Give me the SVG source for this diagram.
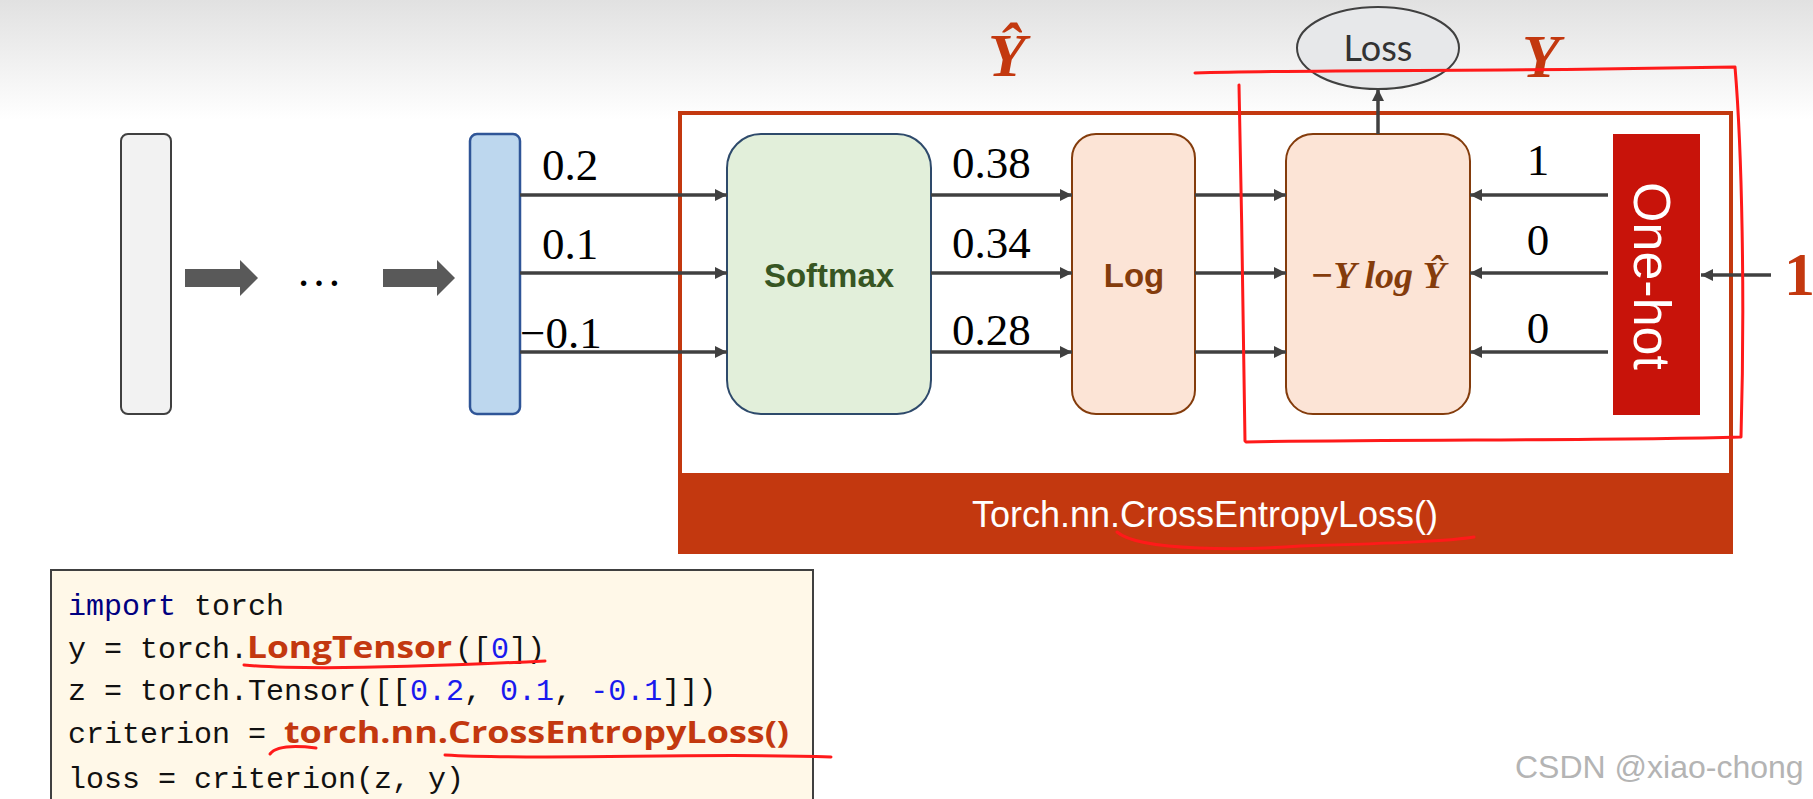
<svg xmlns="http://www.w3.org/2000/svg" width="1813" height="799" viewBox="0 0 1813 799">
<defs>
<linearGradient id="bg" x1="0" y1="0" x2="0" y2="1">
<stop offset="0" stop-color="#e1e1e1"/>
<stop offset="1" stop-color="#ffffff"/>
</linearGradient>
<marker id="ah" markerUnits="userSpaceOnUse" markerWidth="12" markerHeight="12" refX="12" refY="6" orient="auto">
<path d="M0,0 L12,6 L0,12 z" fill="#404040"/>
</marker>
<style>
.num{font-family:"Liberation Serif",serif;font-size:45px;fill:#000}
.conn{stroke:#404040;stroke-width:3.5;fill:none}
.arr{marker-end:url(#ah)}
.lbl{font-family:"Liberation Sans",sans-serif;font-weight:bold;font-size:33px;text-anchor:middle}
.redmath{font-family:"Liberation Serif",serif;font-weight:bold;font-style:italic;fill:#c3380f}
.code{font-family:"Liberation Mono",monospace;font-size:30px;fill:#111}
.kw{fill:#000080}
.nb{fill:#1a1aee}
.hl{font-family:"Open Sans","Liberation Sans",sans-serif;font-weight:bold;font-size:31px;fill:#c3380f}
.pen{stroke:#ff1a1a;stroke-width:3;fill:none;stroke-linecap:round;stroke-linejoin:round}
</style>
</defs>
<rect x="0" y="0" width="1813" height="799" fill="#ffffff"/>
<rect x="0" y="0" width="1813" height="120" fill="url(#bg)"/>

<g id="crossentropy-frame">
<rect x="680" y="113" width="1051" height="439" fill="none" stroke="#c3380f" stroke-width="4"/>
<rect x="678" y="473" width="1055" height="81" fill="#c3380f"/>
<text x="1205" y="527" text-anchor="middle" font-family="Liberation Sans, sans-serif" font-size="36" fill="#ffffff">Torch.nn.CrossEntropyLoss()</text>
</g>

<g id="input-layer">
<rect x="121" y="134" width="50" height="280" rx="7" fill="#f2f2f2" stroke="#404040" stroke-width="2"/>
</g>
<g id="block-arrows">
<polygon points="185,269 240,269 240,260 258,278 240,296 240,287 185,287" fill="#595959"/>
<polygon points="383,269 437,269 437,260 455,278 437,296 437,287 383,287" fill="#595959"/>
<text x="296" y="286" font-family="Liberation Serif, serif" font-size="46" fill="#000">…</text>
</g>
<g id="output-layer">
<rect x="470" y="134" width="50" height="280" rx="7" fill="#bdd7ee" stroke="#2f5597" stroke-width="2.5"/>
</g>
<g id="softmax">
<rect x="727" y="134" width="204" height="280" rx="34" fill="#e2efda" stroke="#2e4a6b" stroke-width="2"/>
<text x="829" y="287" class="lbl" fill="#375623">Softmax</text>
</g>
<g id="log">
<rect x="1072" y="134" width="123" height="280" rx="24" fill="#fce4d6" stroke="#843c0c" stroke-width="2"/>
<text x="1134" y="287" class="lbl" fill="#843c0c">Log</text>
</g>
<g id="ylog">
<rect x="1286" y="134" width="184" height="280" rx="27" fill="#fce4d6" stroke="#843c0c" stroke-width="2"/>
<text x="1378" y="288" text-anchor="middle" font-family="Liberation Serif, serif" font-weight="bold" font-style="italic" font-size="38" fill="#843c0c">−Y log Ŷ</text>
</g>
<g id="loss">
<ellipse cx="1378" cy="48" rx="81" ry="41" fill="#e7e8ea" stroke="#404040" stroke-width="2"/>
<text x="1378" y="61" text-anchor="middle" font-family="Lato, sans-serif" font-size="36" fill="#333">Loss</text>
</g>
<g id="onehot">
<rect x="1613" y="134" width="87" height="281" fill="#c8130a"/>
<text x="0" y="19" transform="translate(1653,276) rotate(90)" text-anchor="middle" font-family="Liberation Sans, sans-serif" font-size="52" fill="#ffffff">One-hot</text>
</g>

<g id="labels">
<text x="542" y="180" class="num">0.2</text>
<text x="542" y="259" class="num">0.1</text>
<text x="520" y="348" class="num">−0.1</text>
<text x="952" y="178" class="num">0.38</text>
<text x="952" y="258" class="num">0.34</text>
<text x="952" y="345" class="num">0.28</text>
<text x="1538" y="175" class="num" text-anchor="middle">1</text>
<text x="1538" y="255" class="num" text-anchor="middle">0</text>
<text x="1538" y="343" class="num" text-anchor="middle">0</text>
<text x="988" y="76" class="redmath" font-size="62">Ŷ</text>
<text x="1522" y="77" class="redmath" font-size="62">Y</text>
<text x="1784" y="295" font-family="Liberation Serif, serif" font-weight="bold" font-size="62" fill="#c3380f">1</text>
</g>

<g id="connectors">
<line x1="520" y1="195" x2="727" y2="195" class="conn arr"/>
<line x1="520" y1="273" x2="727" y2="273" class="conn arr"/>
<line x1="520" y1="352" x2="727" y2="352" class="conn arr"/>
<line x1="931" y1="195" x2="1072" y2="195" class="conn arr"/>
<line x1="931" y1="273" x2="1072" y2="273" class="conn arr"/>
<line x1="931" y1="352" x2="1072" y2="352" class="conn arr"/>
<line x1="1195" y1="195" x2="1286" y2="195" class="conn arr"/>
<line x1="1195" y1="273" x2="1286" y2="273" class="conn arr"/>
<line x1="1195" y1="352" x2="1286" y2="352" class="conn arr"/>
<line x1="1608" y1="195" x2="1470" y2="195" class="conn arr"/>
<line x1="1608" y1="273" x2="1470" y2="273" class="conn arr"/>
<line x1="1608" y1="352" x2="1470" y2="352" class="conn arr"/>
<line x1="1378" y1="134" x2="1378" y2="89" class="conn arr"/>
<line x1="1771" y1="275" x2="1701" y2="275" class="conn arr"/>
</g>

<g id="code">
<rect x="51" y="570" width="762" height="240" fill="#fff8e8" stroke="#404040" stroke-width="2"/>
<text x="68" y="615" class="code"><tspan class="kw">import</tspan> torch</text>
<text x="68" y="658" class="code">y = torch.<tspan x="247" class="hl" textLength="205" lengthAdjust="spacingAndGlyphs">LongTensor</tspan><tspan x="455">([</tspan><tspan class="nb">0</tspan>])</text>
<text x="68" y="700" class="code">z = torch.Tensor([[<tspan class="nb">0.2</tspan>, <tspan class="nb">0.1</tspan>, <tspan class="nb">-0.1</tspan>]])</text>
<text x="68" y="743" class="code">criterion = <tspan x="284" class="hl" textLength="505" lengthAdjust="spacingAndGlyphs">torch.nn.CrossEntropyLoss()</tspan></text>
<text x="68" y="788" class="code">loss = criterion(z, y)</text>
</g>

<g id="annotations">
<path class="pen" d="M1195,73 C1300,70 1450,71 1600,69 L1735,67 C1742,150 1745,300 1741,437 C1600,441 1400,439 1246,442"/>
<path class="pen" d="M1239,85 C1242,200 1243,350 1245,441"/>
<path class="pen" d="M1117,532 C1140,552 1250,550 1300,546 C1400,543 1450,541 1474,537"/>
<path class="pen" d="M244,665 C300,670 400,668 545,661"/>
<path class="pen" d="M270,754 C276,746 292,745 316,748"/>
<path class="pen" d="M445,755 C550,761 700,752 831,757"/>
</g>

<text x="1515" y="778" font-family="Liberation Sans, sans-serif" font-size="32" fill="#b4b4b4">CSDN @xiao-chong</text>
</svg>
